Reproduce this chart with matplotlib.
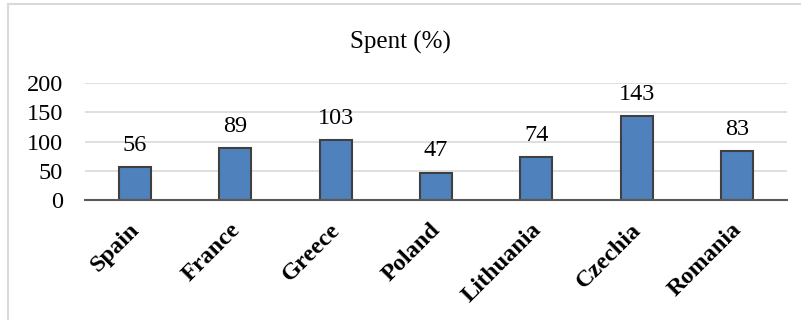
import matplotlib
matplotlib.use("Agg")
import matplotlib.pyplot as plt
import matplotlib.patches as mpatches
import matplotlib.transforms as mtransforms

countries = ["Spain", "France", "Greece", "Poland", "Lithuania", "Czechia", "Romania"]
spent = [56, 89, 103, 47, 74, 143, 83]
yticks = [0, 50, 100, 150, 200]

plt.rcParams["font.family"] = ["Liberation Serif", "DejaVu Serif"]

W, H = 801, 320
fig = plt.figure(figsize=(W / 100, H / 100), dpi=100, facecolor="white")

# chart frame (cut off on the right and bottom)
fig.patches.append(mpatches.Rectangle(
    (8 / W, -0.05), 1.0, 1 - 4 / H + 0.05, transform=fig.transFigure,
    fill=False, edgecolor="#d9d9d9", linewidth=1.5, zorder=0))

ax = fig.add_axes([85 / W, 1 - 200 / H, (787 - 85) / W, (200 - 83) / H])
x = range(len(countries))
bars = ax.bar(x, spent, width=0.32, color="#4f81bd", edgecolor="#404040",
              linewidth=1.5, zorder=3)

for i, v in zip(x, spent):
    ax.annotate(str(v), (i, v), xytext=(0, 8), textcoords="offset points",
                ha="center", va="bottom", fontsize=17.5, color="black")

ax.set_xlim(-0.5, len(countries) - 0.5)
ax.set_ylim(0, 200)
ax.set_yticks(yticks)
ax.set_yticklabels([str(t) for t in yticks], fontsize=17.5)
ax.yaxis.grid(True, color="#d9d9d9", linewidth=1.2, zorder=0)
ax.set_axisbelow(True)
ax.tick_params(axis="y", length=0, pad=16)
ax.tick_params(axis="x", length=0, pad=14)
ax.set_xticks(list(x))
ax.set_xticklabels(countries, rotation=45, ha="right", rotation_mode="anchor",
                   fontsize=17.5, fontweight="bold")
shift = mtransforms.ScaledTranslation(-6 / 100, 0, fig.dpi_scale_trans)
for lbl in ax.get_xticklabels():
    lbl.set_transform(lbl.get_transform() + shift)
for s in ["top", "right", "left"]:
    ax.spines[s].set_visible(False)
ax.spines["bottom"].set_color("#595959")
ax.spines["bottom"].set_linewidth(1.5)
ax.spines["bottom"].set_zorder(4)

fig.text(400 / W, 1 - 42 / H, "Spent (%)", ha="center", va="center", fontsize=18)

fig.savefig("out.png", dpi=100, facecolor="white")
